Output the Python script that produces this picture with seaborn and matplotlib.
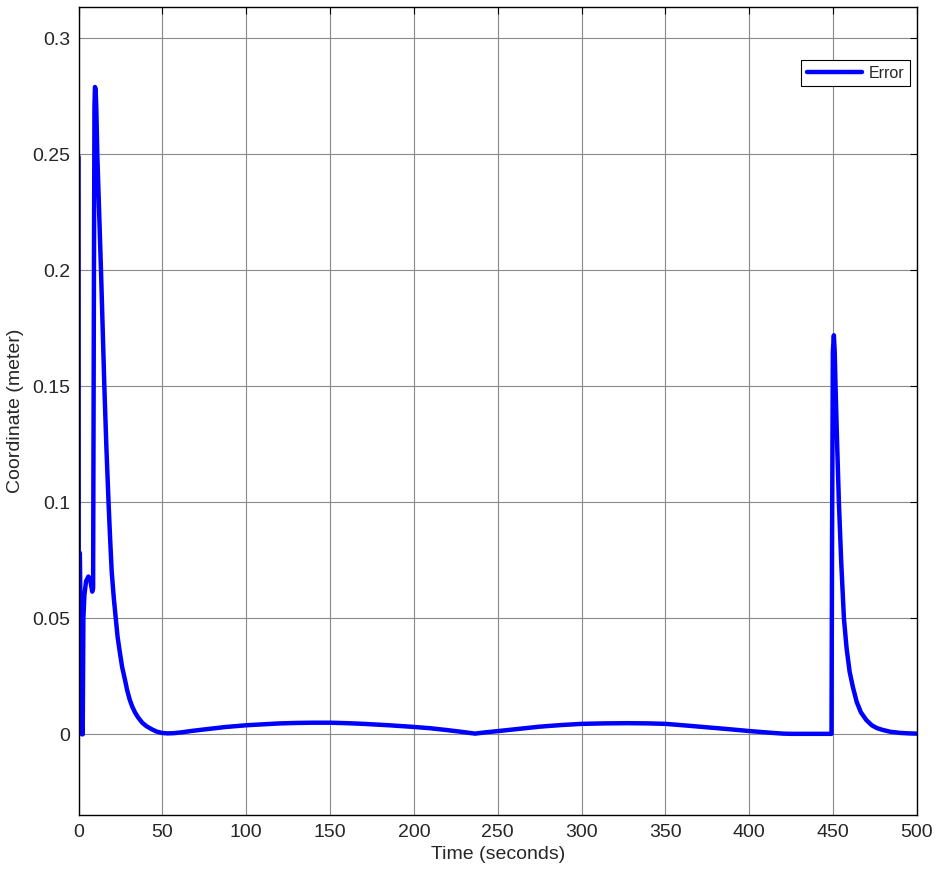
import numpy as np
import pandas as pd
import seaborn as sns
import matplotlib.pyplot as plt

# values
time_s = [0.0, 0.1, 0.8, 2.0, 2.5, 2.9, 3.5, 4.5, 5.9, 7.0, 7.8, 8.2, 8.7,
          9.2, 9.5, 9.8, 10.2, 10.6, 11.2, 12.3, 13.4, 14.4, 15.4, 16.6,
          17.9, 18.8, 19.8, 21.0, 22.2, 23.3, 24.5, 26.0, 27.7, 29.0, 30.5,
          32.0, 33.7, 35.5, 38.0, 40.5, 43.6, 46.5, 49.6, 53.0, 57.0, 62.0,
          68.0, 75.0, 87.0, 100.0, 110.0, 120.0, 130.0, 140.0, 150.0, 160.0,
          170.0, 185.0, 199.5, 210.0, 220.0, 228.0, 236.5, 242.0, 249.0,
          262.0, 275.0, 288.0, 300.0, 313.0, 327.0, 340.0, 350.0, 362.0,
          375.0, 388.0, 400.0, 407.0, 414.0, 420.0, 425.0, 449.0, 449.3,
          449.8, 450.4, 450.9, 451.4, 452.4, 453.4, 454.8, 456.4, 458.0,
          459.8, 461.7, 464.0, 466.5, 469.7, 473.0, 476.0, 479.4, 484.0,
          490.0, 495.0, 500.0]
error_m = [0.249, 0.079, 0.078, 0.0, 0.0, 0.05, 0.06, 0.066, 0.068, 0.0665,
           0.063, 0.0615, 0.063, 0.2, 0.27, 0.279, 0.278, 0.27, 0.25, 0.225,
           0.2, 0.175, 0.15, 0.124, 0.1, 0.085, 0.07, 0.059, 0.05, 0.042,
           0.036, 0.029, 0.0235, 0.019, 0.015, 0.012, 0.0094, 0.0073, 0.005,
           0.0035, 0.0022, 0.0012, 0.0006, 0.0004, 0.0005, 0.0009, 0.0015,
           0.0021, 0.0031, 0.0039, 0.0043, 0.0047, 0.0049, 0.0050, 0.0050,
           0.0048, 0.0045, 0.0039, 0.0032, 0.0026, 0.0018, 0.0011, 0.0003,
           0.0008, 0.0013, 0.0023, 0.0033, 0.0040, 0.0045, 0.0047, 0.0048,
           0.0047, 0.0045, 0.0038, 0.0030, 0.0022, 0.0014, 0.0010, 0.0006,
           0.0003, 0.0002, 0.0002, 0.08, 0.165, 0.172, 0.165, 0.15, 0.124,
           0.1, 0.074, 0.05, 0.037, 0.027, 0.0205, 0.014, 0.0095, 0.0062,
           0.0039, 0.0027, 0.0019, 0.0011, 0.0006, 0.0004, 0.0003]

x_ticks = list(range(0, 501, 50))
y_ticks = [0, 0.05, 0.1, 0.15, 0.2, 0.25, 0.3]
y_tick_labels = ['0', '0.05', '0.1', '0.15', '0.2', '0.25', '0.3']

df = pd.DataFrame({'time': time_s, 'error': error_m})

sns.set_style('white')
plt.rcParams['font.family'] = ['Liberation Sans', 'DejaVu Sans']

fig = plt.figure(figsize=(9.37, 8.81), dpi=100)
ax = fig.add_axes([0.0838, 0.0746, 0.8949, 0.9175])

sns.lineplot(data=df, x='time', y='error', color='#0000ff', linewidth=3.2,
             label='Error', estimator=None, sort=False, ax=ax)

ax.set_xlim(0, 500)
ax.set_ylim(-0.0349, 0.3135)
ax.set_xticks(x_ticks)
ax.set_yticks(y_ticks)
ax.set_yticklabels(y_tick_labels)
ax.grid(True, color='#8a8a8a', linewidth=0.8)
ax.set_axisbelow(True)
ax.tick_params(direction='in', length=5, width=0.8, top=True, right=True,
               labelsize=14, labelcolor='#262626', color='black', pad=6)
for s in ax.spines.values():
    s.set_visible(True)
    s.set_color('black')
    s.set_linewidth(1.0)

ax.set_xlabel('Time (seconds)', fontsize=14, color='#262626', labelpad=4)
ax.set_ylabel('Coordinate (meter)', fontsize=14, color='#262626', labelpad=6)

leg = ax.legend(loc='upper right', bbox_to_anchor=(0.9917, 0.9344),
                borderaxespad=0, fontsize=11.5, handlelength=3.5,
                fancybox=False, framealpha=1, edgecolor='black',
                borderpad=0.35, handletextpad=0.4)
leg.get_frame().set_linewidth(0.8)

fig.savefig('out.png', dpi=100)
